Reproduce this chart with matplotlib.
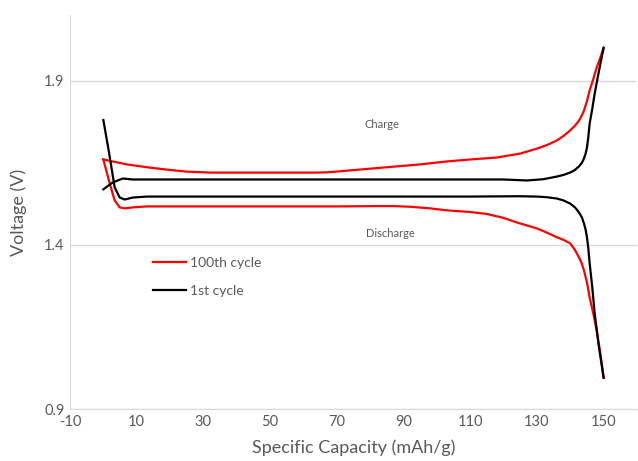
import matplotlib
matplotlib.use("Agg")
import matplotlib.pyplot as plt

plt.rcParams['font.family'] = ['Lato', 'DejaVu Sans']
plt.rcParams['axes.unicode_minus'] = False

# 1st cycle (black)
c1_dis_x = [0, 1.6, 3.4, 4.9, 6.4, 8.8, 13, 30, 60, 90, 110, 125, 130, 133, 136, 138, 139.9, 141.4, 142.6, 143.5,
            144.1, 144.6, 145, 145.4, 145.8, 146.6, 147.3, 148.5, 150]
c1_dis_v = [1.78, 1.687, 1.575, 1.544, 1.538, 1.544, 1.547, 1.547, 1.547, 1.547, 1.547, 1.548, 1.547, 1.545, 1.541, 1.535, 1.526, 1.514, 1.499, 1.483,
            1.465, 1.446, 1.423, 1.39, 1.344, 1.27, 1.192, 1.095, 0.995]
c1_chg_x = [0, 2.8, 5.8, 8.8, 30, 60, 90, 120, 127, 132, 136, 138, 139.9, 141.4, 142.6, 143.5, 144.1, 144.6, 145, 145.4, 145.8,
            146.6, 147.3, 148.6, 150]
c1_chg_v = [1.569, 1.59, 1.602, 1.599, 1.599, 1.599, 1.599, 1.599, 1.596, 1.600, 1.608, 1.613, 1.620, 1.628, 1.639, 1.650, 1.663, 1.678, 1.696, 1.728, 1.769,
            1.815, 1.86, 1.93, 2.0]

# 100th cycle (red)
c100_dis_x = [0, 1.9, 3.4, 4.9, 6.4, 8.8, 13, 40, 70, 82, 87, 92, 98, 103, 110, 115, 120, 124, 127, 130, 133, 136, 138, 139.9,
              141.3, 142.6, 143.4, 144.1, 145, 145.8, 146.9, 147.9, 149, 150]
c100_dis_v = [1.66, 1.587, 1.535, 1.514, 1.511, 1.514, 1.517, 1.517, 1.517, 1.518, 1.518, 1.516, 1.511, 1.505, 1.500, 1.494, 1.482, 1.468, 1.459, 1.450, 1.437, 1.423, 1.415, 1.405,
               1.386, 1.362, 1.344, 1.322, 1.285, 1.240, 1.190, 1.140, 1.07, 0.995]
c100_chg_x = [0, 7, 14, 20, 25, 32, 50, 64, 67.5, 72, 80, 95, 103, 110, 118, 125, 130, 133, 136, 138, 139.9, 141.3, 142.6, 143.4,
              144.1, 145, 145.8, 146.9, 147.9, 149, 150]
c100_chg_v = [1.66, 1.645, 1.635, 1.628, 1.623, 1.62, 1.62, 1.62, 1.621, 1.625, 1.632, 1.645, 1.654, 1.66, 1.666, 1.678, 1.693, 1.704, 1.718, 1.732, 1.748, 1.762, 1.778, 1.793,
              1.809, 1.838, 1.87, 1.905, 1.94, 1.97, 2.0]

grey = '#595959'

fig = plt.figure(figsize=(6.38, 4.61), dpi=100)
ax = fig.add_axes([70/638, 52/461, 567/638, 394/461])

ax.plot(c100_dis_x, c100_dis_v, color='#ff0000', lw=1.6, label='100th cycle')
ax.plot(c100_chg_x, c100_chg_v, color='#ff0000', lw=1.6)
ax.plot(c1_dis_x, c1_dis_v, color='black', lw=1.6, label='1st cycle')
ax.plot(c1_chg_x, c1_chg_v, color='black', lw=1.6)

ax.set_xlim(-10, 160)
ax.set_ylim(0.9, 2.1)
ax.set_xticks(range(-10, 151, 20))
ax.set_yticks([0.9, 1.4, 1.9])
ax.yaxis.grid(True, color='#d9d9d9', lw=1)
ax.set_axisbelow(True)
for s in ['top', 'right']:
    ax.spines[s].set_visible(False)
for s in ['left', 'bottom']:
    ax.spines[s].set_color('#d9d9d9')
ax.tick_params(length=0, labelsize=10.5, labelcolor=grey, pad=4)

ax.set_xlabel('Specific Capacity (mAh/g)', fontsize=13, color=grey, labelpad=8)
ax.set_ylabel('Voltage (V)', fontsize=13, color=grey, labelpad=12)

ax.text(83.6, 1.766, 'Charge', fontsize=8, color=grey, ha='center', va='center')
ax.text(86, 1.435, 'Discharge', fontsize=8, color=grey, ha='center', va='center')

ax.legend(loc='upper left', bbox_to_anchor=(0.146, 0.385), frameon=False,
          fontsize=10, labelcolor=grey, handlelength=2.4, handletextpad=0.25,
          labelspacing=1.15, borderpad=0, borderaxespad=0)

fig.savefig('out.png', dpi=100)
